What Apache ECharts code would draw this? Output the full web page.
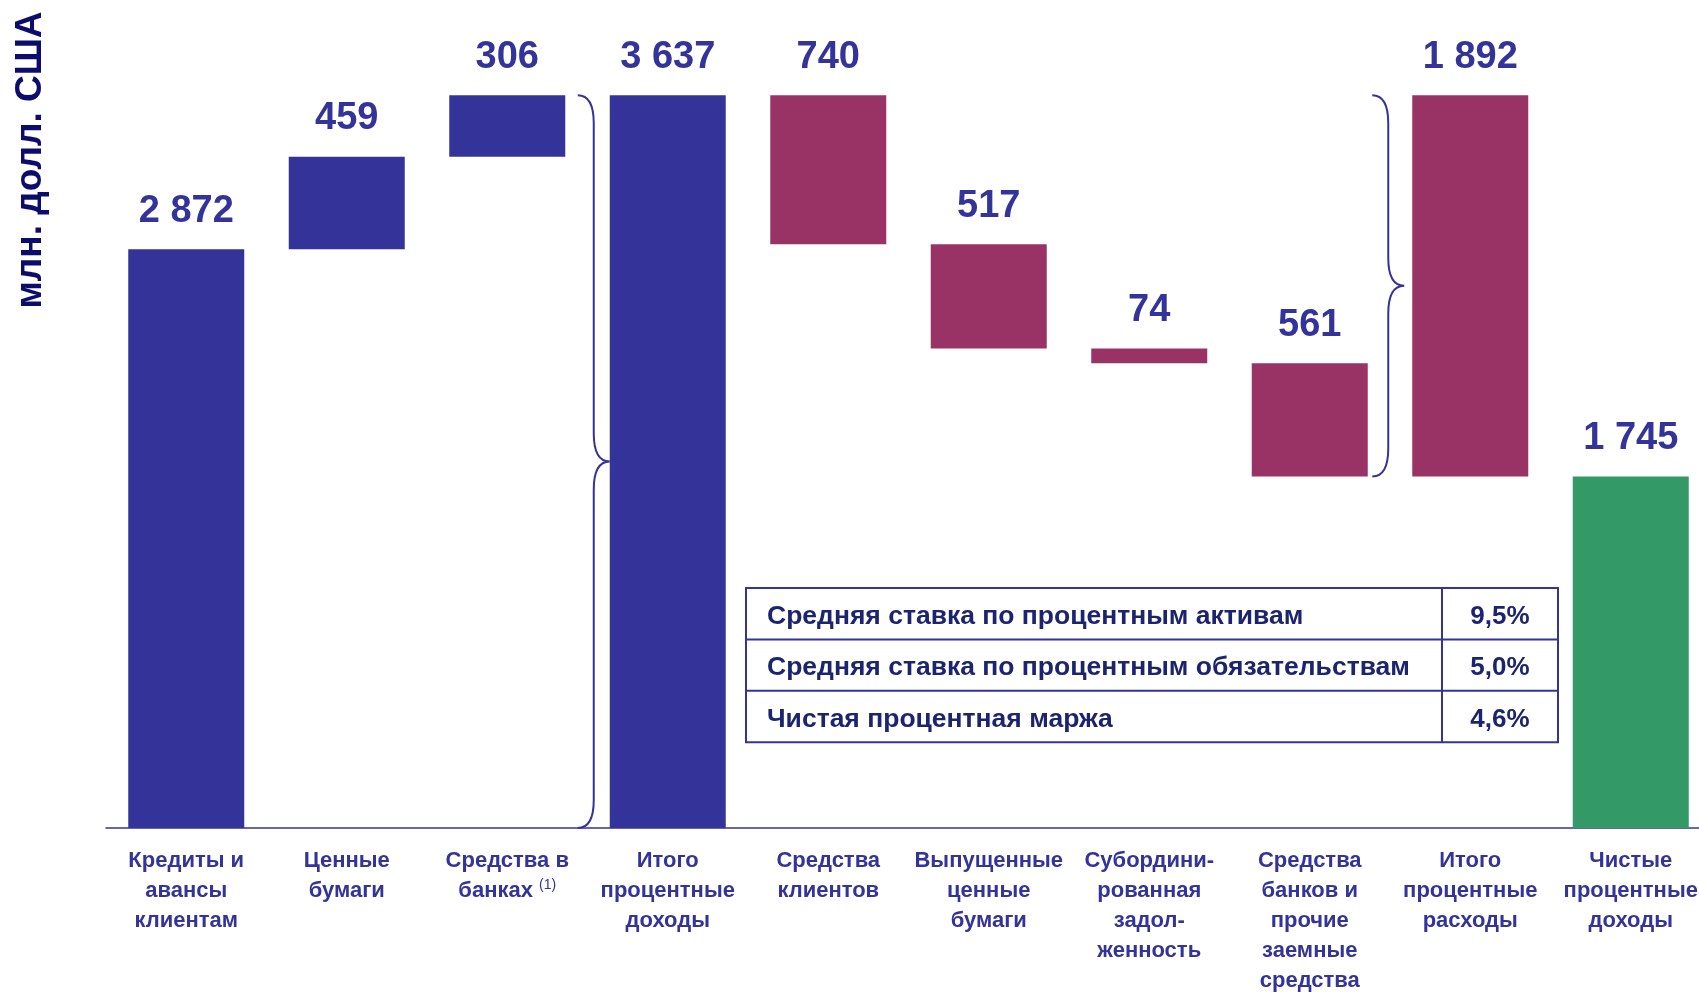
<!DOCTYPE html>
<html>
<head>
<meta charset="utf-8">
<script src="https://cdn.jsdelivr.net/npm/echarts@6/dist/echarts.min.js"></script>
<style>
  html, body { margin: 0; padding: 0; background: #ffffff; }
  #chart { width: 1699px; height: 992px; }
</style>
</head>
<body>
<div id="chart"></div>
<script>
// Категории каскадной диаграммы (подписи оси X)
const categories = [
  'Кредиты и\nавансы\nклиентам',
  'Ценные\nбумаги',
  '{t|Средства в}\n{t|банках} {sup|(1)}',
  'Итого\nпроцентные\nдоходы',
  'Средства\nклиентов',
  'Выпущенные\nценные\nбумаги',
  'Субордини-\nрованная\nзадол-\nженность',
  'Средства\nбанков и\nпрочие\nзаемные\nсредства',
  'Итого\nпроцентные\nрасходы',
  'Чистые\nпроцентные\nдоходы'
];

// Значения, млн. долл. США
const values = [2872, 459, 306, 3637, 740, 517, 74, 561, 1892, 1745];

// Тип шага: доход, итог доходов, расход, итог расходов, чистый итог
const stepKinds = ['inc', 'inc', 'inc', 'total', 'exp', 'exp', 'exp', 'exp', 'totalExp', 'net'];

// Индексы столбцов, к которым подводятся фигурные скобки
const braceAt = [3, 8];

// Показатели доходности
const ratioNames = [
  'Средняя ставка по процентным активам',
  'Средняя ставка по процентным обязательствам',
  'Чистая процентная маржа'
];
const ratioValues = [9.5, 5.0, 4.6];

const COLORS = { inc: '#333399', total: '#333399', exp: '#993366', totalExp: '#993366', net: '#339966' };
const FONT = '"Liberation Sans", Arial, sans-serif';
const BAR_W = 116;

// Основания невидимой части каскада
const bases = [];
let running = 0;
values.forEach((v, i) => {
  const k = stepKinds[i];
  if (k === 'inc') { bases.push(running); running += v; }
  else if (k === 'total') { bases.push(0); running = v; }
  else if (k === 'exp') { running -= v; bases.push(running); }
  else if (k === 'totalExp') { bases.push(running); }
  else { bases.push(0); }
});

const fmt = v => String(v).replace(/\B(?=(\d{3})+(?!\d))/g, ' ');

const braceData = braceAt.map(i => [i, bases[i], bases[i] + values[i]]);

const chart = echarts.init(document.getElementById('chart'), null, { renderer: 'canvas' });

// Таблица показателей
const tbl = { left: 746, top: 588, width: 812, rowH: 51.4, split: 1442 };
const tableEls = [];
tableEls.push({
  type: 'rect',
  shape: { x: tbl.left, y: tbl.top, width: tbl.width, height: tbl.rowH * ratioNames.length },
  style: { fill: 'none', stroke: '#333399', lineWidth: 2 }
});
for (let r = 1; r < ratioNames.length; r++) {
  tableEls.push({
    type: 'line',
    shape: { x1: tbl.left, y1: tbl.top + r * tbl.rowH, x2: tbl.left + tbl.width, y2: tbl.top + r * tbl.rowH },
    style: { stroke: '#333399', lineWidth: 2 }
  });
}
tableEls.push({
  type: 'line',
  shape: { x1: tbl.split, y1: tbl.top, x2: tbl.split, y2: tbl.top + tbl.rowH * ratioNames.length },
  style: { stroke: '#333399', lineWidth: 2 }
});
ratioNames.forEach((name, r) => {
  const cy = tbl.top + (r + 0.5) * tbl.rowH + 3;
  tableEls.push({
    type: 'text', x: 767, y: cy,
    style: { text: name, fill: '#1c2470', font: 'bold 26.5px ' + FONT, textAlign: 'left', textVerticalAlign: 'middle' }
  });
  tableEls.push({
    type: 'text', x: (tbl.split + tbl.left + tbl.width) / 2, y: cy,
    style: { text: ratioValues[r].toFixed(1).replace('.', ',') + '%', fill: '#1c2470', font: 'bold 26px ' + FONT, textAlign: 'center', textVerticalAlign: 'middle' }
  });
});

const option = {
  animation: false,
  backgroundColor: '#ffffff',
  grid: { left: 106, top: 22, width: 1605, height: 806, containLabel: false, outerBoundsMode: 'none' },
  xAxis: {
    type: 'category',
    data: categories,
    axisLine: { lineStyle: { color: '#333399', width: 1.5 } },
    axisTick: { show: false },
    axisLabel: {
      interval: 0,
      margin: 18,
      color: '#333399',
      fontFamily: FONT,
      fontWeight: 'bold',
      fontSize: 22,
      lineHeight: 30,
      rich: {
        t: { color: '#333399', fontFamily: FONT, fontWeight: 'bold', fontSize: 22, lineHeight: 30 },
        sup: { color: '#333399', fontFamily: FONT, fontWeight: 'normal', fontSize: 14, lineHeight: 30, padding: [0, 0, 12, 0] }
      }
    }
  },
  yAxis: {
    type: 'value',
    min: 0,
    max: 4000,
    show: false,
    splitLine: { show: false }
  },
  graphic: [
    {
      type: 'text',
      x: 31, y: 160,
      rotation: Math.PI / 2,
      style: { text: 'млн. долл. США', fill: '#0c0c6c', font: 'bold 37px ' + FONT, textAlign: 'center', textVerticalAlign: 'middle' }
    },
    ...tableEls
  ],
  series: [
    {
      type: 'bar',
      stack: 'w',
      barWidth: BAR_W,
      silent: true,
      itemStyle: { color: 'transparent' },
      data: bases
    },
    {
      type: 'bar',
      stack: 'w',
      barWidth: BAR_W,
      data: values.map((v, i) => ({ value: v, itemStyle: { color: COLORS[stepKinds[i]] } })),
      label: {
        show: true,
        position: 'top',
        distance: 19,
        color: '#333399',
        fontFamily: FONT,
        fontWeight: 'bold',
        fontSize: 38,
        formatter: p => fmt(p.value)
      }
    },
    {
      type: 'custom',
      silent: true,
      clip: false,
      data: braceData,
      encode: { x: 0, y: [1, 2] },
      z: 5,
      renderItem: (params, api) => {
        const c = api.value(0);
        const pA = api.coord([c, api.value(1)]);
        const pB = api.coord([c, api.value(2)]);
        const gap = params.dataIndex === 0 ? 0 : 8;
        const tx = pA[0] - BAR_W / 2 - gap;
        const vx = tx - 16;
        const ex = tx - 32;
        const yT = Math.min(pA[1], pB[1]);
        const yB = Math.max(pA[1], pB[1]);
        const yM = (yT + yB) / 2;
        const r = 28;
        const d = [
          'M', ex, yT,
          'Q', vx, yT, vx, yT + r,
          'L', vx, yM - r,
          'Q', vx, yM, tx, yM,
          'Q', vx, yM, vx, yM + r,
          'L', vx, yB - r,
          'Q', vx, yB, ex, yB
        ].join(' ');
        return {
          type: 'path',
          shape: { pathData: d },
          style: { fill: 'none', stroke: '#333399', lineWidth: 2 }
        };
      }
    }
  ]
};

chart.setOption(option);
</script>
</body>
</html>
